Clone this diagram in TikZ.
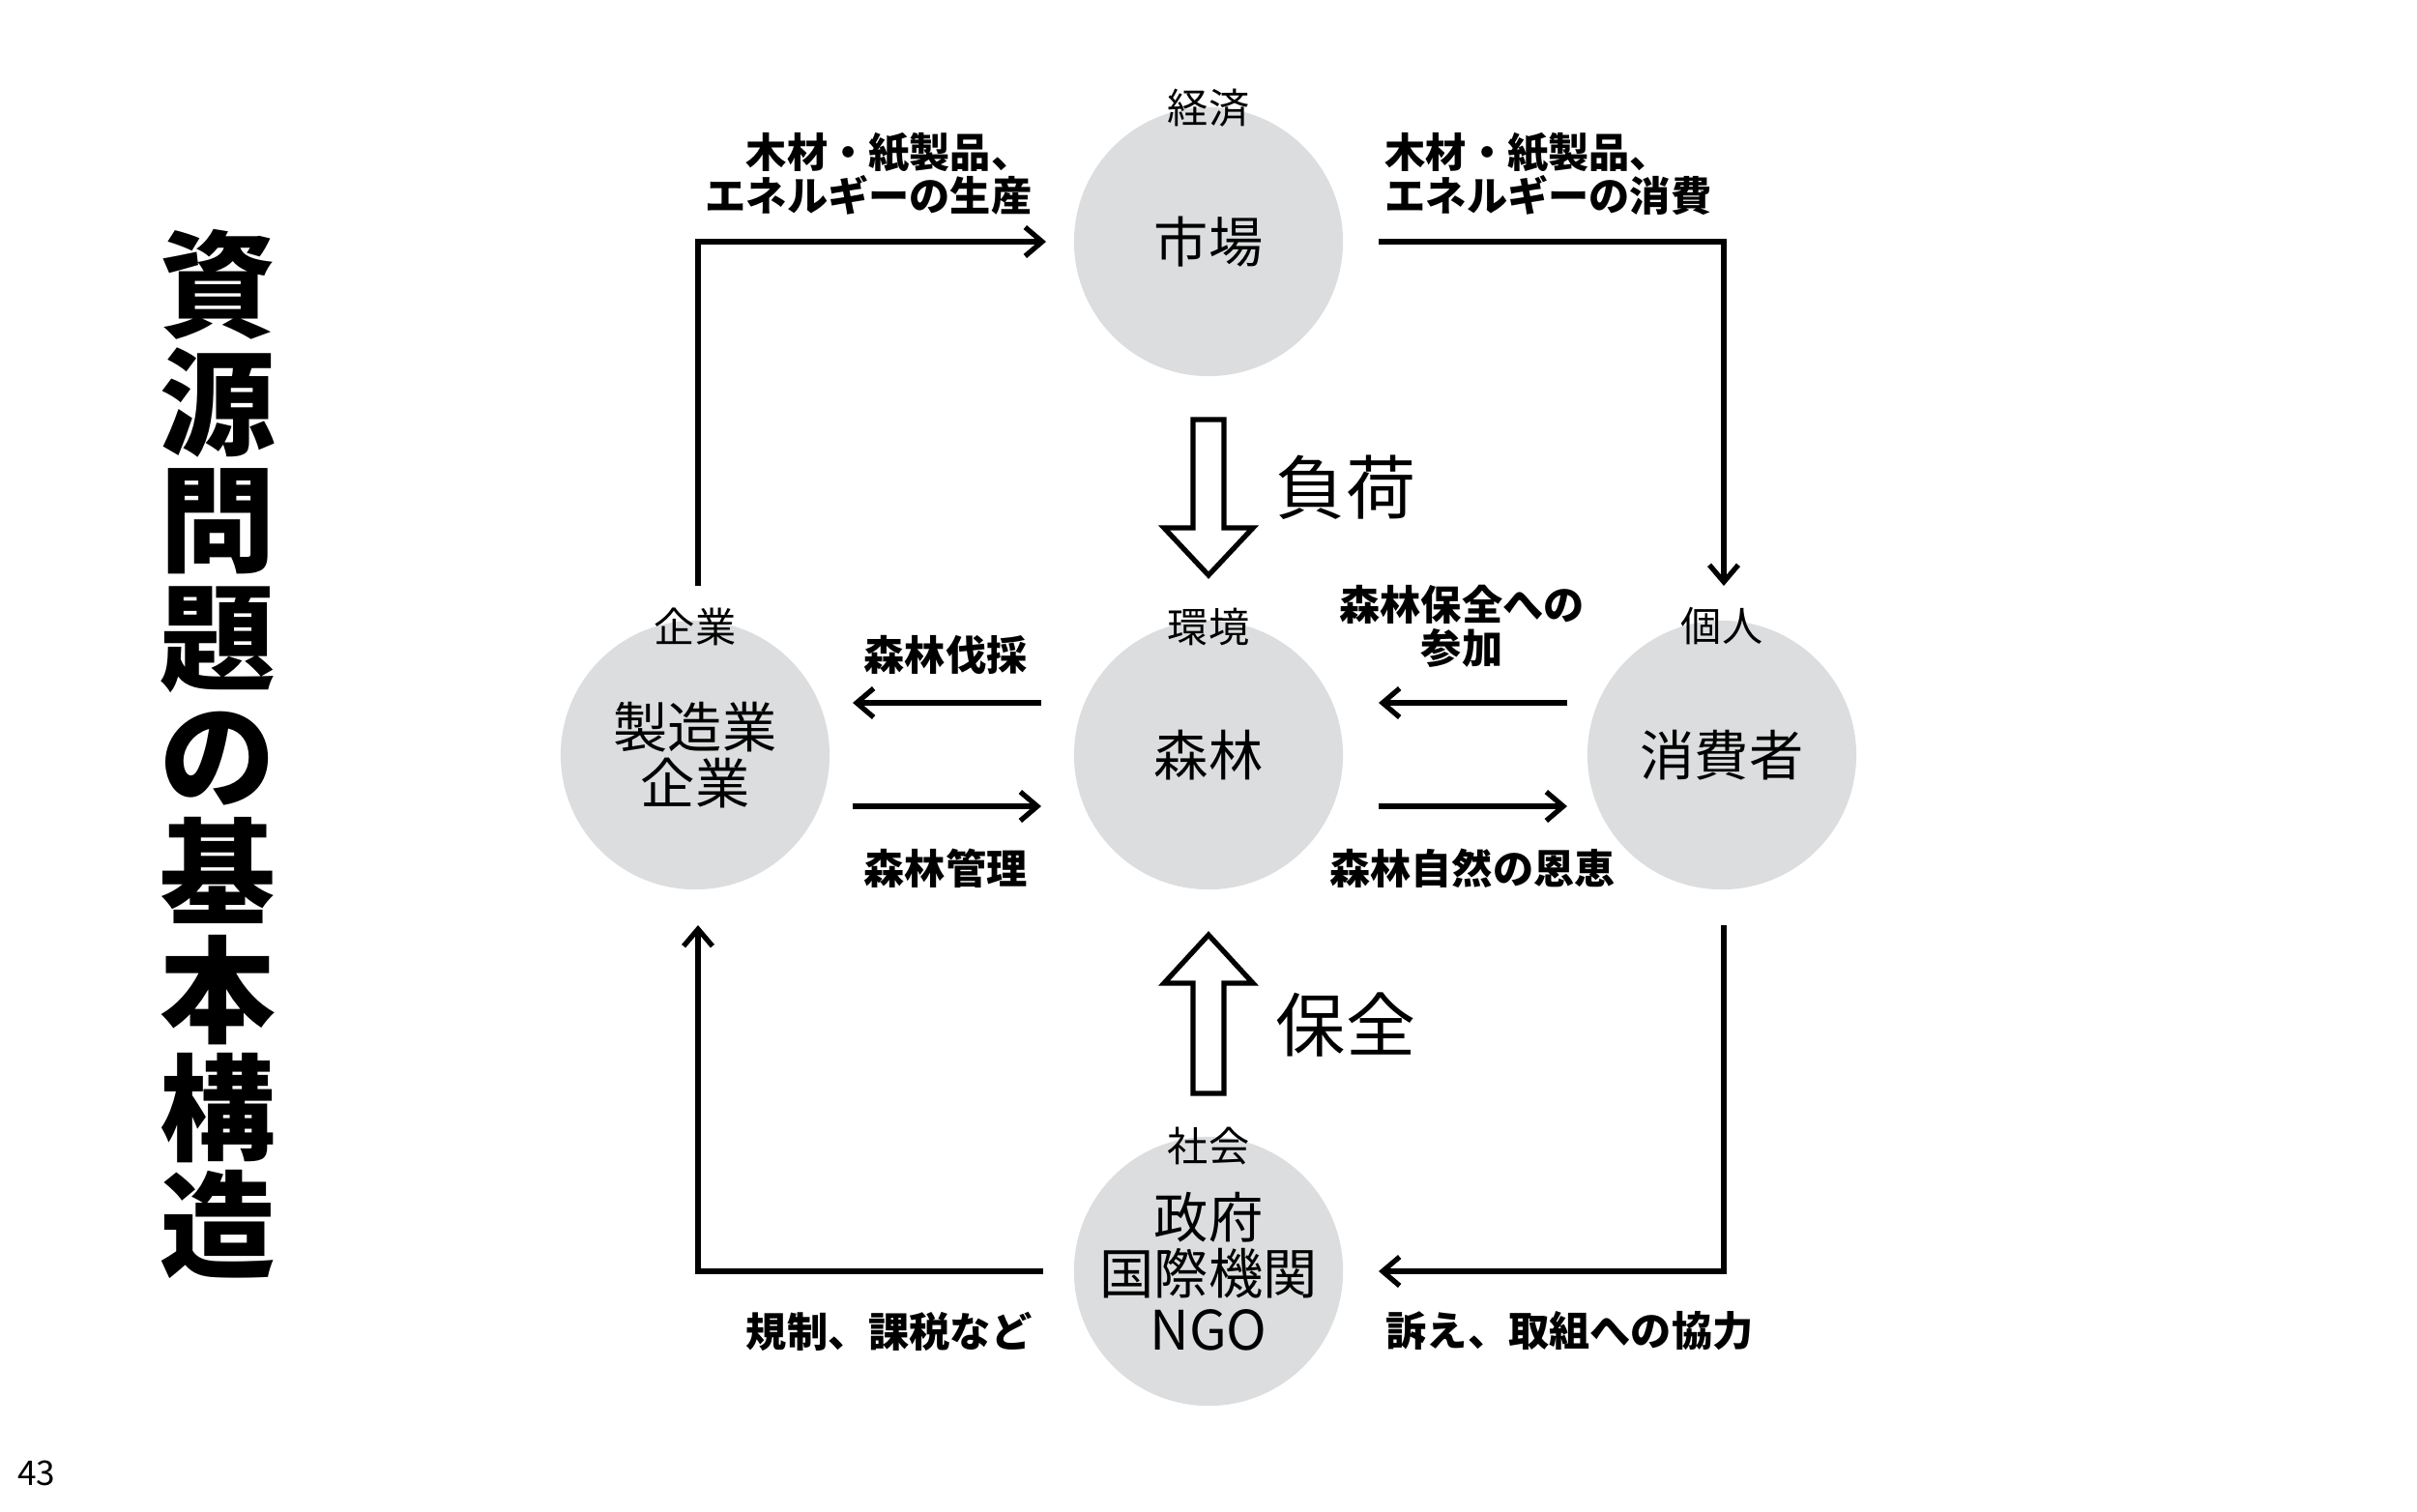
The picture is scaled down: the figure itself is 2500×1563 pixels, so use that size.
\documentclass[tikz,border=0pt]{standalone}
\usepackage{fontspec}
\setmainfont{Noto Sans CJK JP}
\usepackage{tikz}
\usetikzlibrary{arrows.meta,calc,positioning}
\usepackage{xcolor}
\definecolor{hubgray}{HTML}{DCDDDE}

\begin{document}
\begin{tikzpicture}[x=0.01cm, y=-0.01cm,
  hub/.style={circle, fill=hubgray, minimum size=2.78cm, inner sep=0pt, align=center,
    font=\fontsize{16}{16.5}\selectfont},
  tag/.style={inner sep=0pt, font=\fontsize{12}{12}\selectfont},
  lbl/.style={inner sep=0pt, align=center, font=\bfseries\fontsize{12}{12.8}\selectfont},
  flow/.style={line width=1.5pt, -{Straight Barb[length=5pt,width=8.5pt]}},
  hollow/.style={line width=1.5pt, line join=miter, fill=white}]

\useasboundingbox (0,0) rectangle (2500,1563);

% Titel links
\node[inner sep=0pt, align=center, font=\bfseries\fontsize{34}{34.6}\selectfont] (heading) at (225,780)
  {資\\源\\問\\題\\の\\基\\本\\構\\造};
\node[inner sep=0pt, font=\fontsize{10}{10}\selectfont] (page) at (38,1524) {43};

% Kreise
\node[hub] (market) at (1250,250) {市場};
\node[hub] (forest) at (1250,781) {森林};
\node[hub] (maker) at (719,781) {製造業\\企業};
\node[hub] (user) at (1781,781) {消費者};
\node[hub] (gov) at (1250,1315) {政府\\国際機関\\NGO};

\node[tag] (econ) at (1250,112) {経済};
\node[tag] (env) at (1250,648) {環境};
\node[tag] (firm) at (719,648) {企業};
\node[tag] (indiv) at (1781,648) {個人};
\node[tag] (soc) at (1250,1186) {社会};

% Kreislauf aussen
\coordinate (maker-up) at (722,606);
\coordinate (market-in) at (1082,250);
\coordinate (market-out) at (1426,250);
\coordinate (user-in) at (1783,606);
\coordinate (user-out) at (1783,957);
\coordinate (gov-in) at (1426,1315);
\coordinate (gov-out) at (1079,1315);
\coordinate (maker-in) at (722,957);
\draw[flow] (maker-up) |- (market-in);
\draw[flow] (market-out) -| (user-in);
\draw[flow] (user-out) |- (gov-in);
\draw[flow] (gov-out) -| (maker-in);

% Pfeile zum Wald
\coordinate (forest-w1) at (1077,727);
\coordinate (forest-w2) at (1077,834);
\coordinate (maker-e1) at (882,727);
\coordinate (maker-e2) at (882,834);
\coordinate (forest-e1) at (1426,727);
\coordinate (forest-e2) at (1426,834);
\coordinate (user-w1) at (1621,727);
\coordinate (user-w2) at (1621,834);
\draw[flow] (forest-w1) -- (maker-e1);
\draw[flow] (maker-e2) -- (forest-w2);
\draw[flow] (user-w1) -- (forest-e1);
\draw[flow] (forest-e2) -- (user-w2);

% Beschriftungen
\node[lbl, align=right, anchor=east] (prodlbl) at (1068,180) {木材・紙製品、\\エネルギーの生産};
\node[lbl, align=left, anchor=west] (conslbl) at (1432,180) {木材・紙製品、\\エネルギーの消費};
\node[lbl] (cutlbl) at (978,677) {森林伐採};
\node[lbl] (carelbl) at (978,898) {森林管理};
\node[lbl] (joinlbl) at (1512,648) {森林保全への\\参加};
\node[lbl] (gainlbl) at (1523,898) {森林自然の恩恵};
\node[lbl, anchor=east] (rulelbl) at (1068,1377) {規制、課税など};
\node[lbl, anchor=west] (helplbl) at (1433,1377) {訴え、取組への協力};

% Hohlpfeile
\draw[hollow] (1234,434) -- (1266,434) -- (1266,546) -- (1296,546) -- (1250,595)
  -- (1204,546) -- (1234,546) -- cycle;
\node[inner sep=0pt, font=\fontsize{20.5}{20.5}\selectfont] (loadlbl) at (1392,504) {負荷};
\draw[hollow] (1234,1131) -- (1266,1131) -- (1266,1017) -- (1296,1017) -- (1250,967)
  -- (1204,1017) -- (1234,1017) -- cycle;
\node[inner sep=0pt, font=\fontsize{20.5}{20.5}\selectfont] (protlbl) at (1392,1060) {保全};

\end{tikzpicture}
\end{document}
